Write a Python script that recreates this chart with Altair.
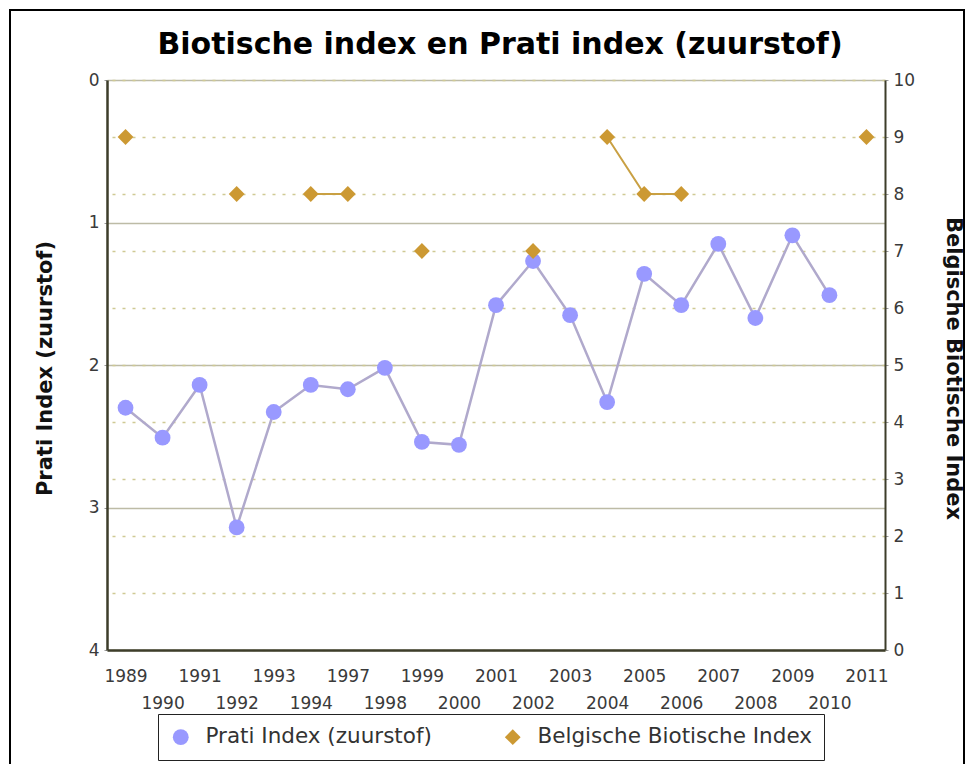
import altair as alt
import pandas as pd

years = [1989, 1990, 1991, 1992, 1993, 1994, 1997, 1998, 1999, 2000, 2001,
         2002, 2003, 2004, 2005, 2006, 2007, 2008, 2009, 2010, 2011]
prati = [2.30, 2.51, 2.14, 3.14, 2.33, 2.14, 2.17, 2.02, 2.54, 2.56, 1.58,
         1.27, 1.65, 2.26, 1.36, 1.58, 1.15, 1.67, 1.09, 1.51, None]
bbi = [9, None, None, 8, None, 8, 8, None, 7, None, None,
       7, None, 9, 8, 8, None, None, None, None, 9]

s_prati = "Prati Index (zuurstof)"
s_bbi = "Belgische Biotische Index"

df_p = pd.DataFrame({"year": years, "value": prati, "series": s_prati})
df_b = pd.DataFrame({"year": years, "value": bbi, "series": s_bbi})

FONT = "DejaVu Sans"

x_enc = alt.X(
    "year:O", sort=years, title=None,
    axis=alt.Axis(
        labelExpr="datum.value % 2 == 1 ? datum.label : ['', datum.label]",
        labelFontSize=17, labelFont=FONT, labelColor="#3a3a3a",
        labelLineHeight=27, labelPadding=18, labelAngle=0,
        labelOverlap=False, labelBound=False, ticks=False,
        domainColor="#3d3d2a", domainWidth=2.5, grid=False,
    ),
)

legend_props = dict(
    title=None, orient="none", legendX=51, legendY=634, direction="horizontal",
    strokeColor="#222222", fillColor="#ffffff", padding=12,
    labelFont=FONT, labelFontSize=21.5, labelColor="#333333", labelLimit=400,
    symbolSize=250, symbolStrokeWidth=0, labelOffset=14, columnPadding=70,
)

color_enc = alt.Color(
    "series:N",
    scale=alt.Scale(domain=[s_prati, s_bbi], range=["#9999FF", "#CC9933"]),
    legend=alt.Legend(**legend_props),
)
shape_enc = alt.Shape(
    "series:N",
    scale=alt.Scale(domain=[s_prati, s_bbi], range=["circle", "diamond"]),
    legend=alt.Legend(**legend_props),
)

y_left = alt.Y(
    "value:Q", title="Prati Index (zuurstof)",
    scale=alt.Scale(domain=[0, 4], reverse=True, nice=False, zero=False),
    axis=alt.Axis(
        orient="left", values=[0, 1, 2, 3, 4], format="d",
        labelFontSize=17, labelFont=FONT, labelColor="#3a3a3a", labelPadding=5,
        ticks=True, tickSize=3, tickColor="#999999",
        domainColor="#3d3d2a", domainWidth=2.5,
        grid=True, gridColor="#bdbba6", gridWidth=1.5,
        titleFont=FONT, titleFontSize=21, titleFontWeight="bold", titleColor="#111111",
        titleX=-62, titleY=288, titleAngle=-90, titleAlign="center", titleBaseline="middle",
    ),
)

y_right = alt.Y(
    "value:Q", title="Belgische Biotische Index",
    scale=alt.Scale(domain=[0, 10], nice=False, zero=True),
    axis=alt.Axis(
        orient="right", values=list(range(0, 11)), format="d",
        labelFontSize=17, labelFont=FONT, labelColor="#3a3a3a", labelPadding=5,
        ticks=True, tickSize=3, tickColor="#999999",
        domainColor="#3d3d2a", domainWidth=2,
        grid=True, gridColor="#cfc994", gridWidth=1.5, gridDash=[3, 7],
        titleFont=FONT, titleFontSize=21, titleFontWeight="bold", titleColor="#111111",
        titleX=67, titleY=288, titleAngle=90, titleAlign="center", titleBaseline="middle",
    ),
)

prati_line = alt.Chart(df_p).mark_line(
    color="#b0a9cc", strokeWidth=2.5, invalid="break-paths-filter-domains"
).encode(x=x_enc, y=y_left)
prati_pts = alt.Chart(df_p).mark_point(
    filled=True, size=250, opacity=1
).encode(x=x_enc, y=y_left, color=color_enc, shape=shape_enc)
prati_layer = alt.layer(prati_line, prati_pts)

bbi_line = alt.Chart(df_b).mark_line(
    color="#c9a043", strokeWidth=2, invalid="break-paths-filter-domains"
).encode(x=x_enc, y=y_right)
bbi_pts = alt.Chart(df_b).mark_point(
    filled=True, size=250, opacity=1
).encode(x=x_enc, y=y_right, color=color_enc, shape=shape_enc)
bbi_layer = alt.layer(bbi_line, bbi_pts)

frame = alt.Chart(alt.Data(values=[{"k": 1}])).mark_rect(
    fill="transparent", stroke="#000000", strokeWidth=2
).encode(x=alt.value(-97), x2=alt.value(857), y=alt.value(-70), y2=alt.value(720))

chart = alt.layer(frame, prati_layer, bbi_layer).resolve_scale(
    y="independent"
).properties(
    width=778, height=570,
    padding={"left": 99, "top": 72, "right": 80, "bottom": 114},
    autosize=alt.AutoSizeParams(type="none"),
    title=alt.Title(
        "Biotische index en Prati index (zuurstof)",
        font=FONT, fontSize=30, fontWeight="bold", color="#000000",
        anchor="middle", baseline="alphabetic", offset=0, dx=4, dy=75,
    ),
).configure_view(
    fill="#FFFCC8", stroke="transparent"
).configure(background="#ffffff")

chart.save("out.html", embed_options={"renderer": "svg", "actions": False})
